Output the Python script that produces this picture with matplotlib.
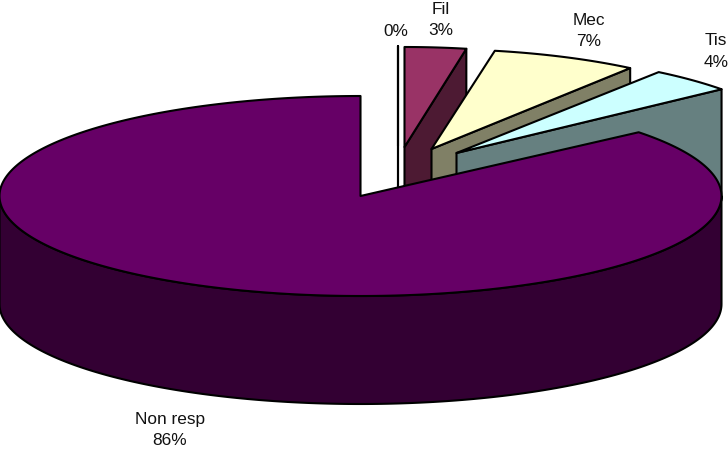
import matplotlib
matplotlib.use("Agg")
import matplotlib.pyplot as plt
import numpy as np
from matplotlib.patches import Polygon

plt.rcParams["font.family"] = ["Liberation Sans", "DejaVu Sans"]

# slices in clockwise order, starting from the top of the pie
labels = ["", "Fil", "Mec", "Tis", "Non resp"]
values = [0, 3, 7, 4, 86]

top_colors = ["#FFFFFF", "#993366", "#FFFFCC", "#CCFFFF", "#660066"]
side_colors = ["#808080", "#4D1A33", "#808066", "#668080", "#330033"]

# pie geometry in pixels
MAIN_CENTER = (360.5, 197)
MAIN_RX = 361
RY = 100
DEPTH = 108
# explode offsets and radii of the small slices
offsets = [(37, -50), (44, -49), (71, -47), (96, -43), (0, 0)]
slice_rx = [335, 330, 338, 344]
label_pos = [(396, 32), (441, 20), (589, 31), (716, 51.5), (170, 430)]
EDGE = 1.5


def rim(center, rx, start, end, n=120):
    theta = np.radians(np.linspace(start, end, n))
    return np.column_stack(
        (center[0] + rx * np.cos(theta), center[1] - RY * np.sin(theta))
    )


def add_poly(ax, points, color):
    ax.add_patch(
        Polygon(points, closed=True, facecolor=color, edgecolor="black",
                linewidth=EDGE, joinstyle="round")
    )


fig = plt.figure(figsize=(7.28, 4.52), dpi=100)
ax = fig.add_axes([0, 0, 1, 1])
ax.set_xlim(0, 728)
ax.set_ylim(452, 0)
ax.axis("off")

# start and end angles come from the values
cumulative = np.concatenate(([0], np.cumsum(values))) / sum(values) * 360
starts = 90 - cumulative[:-1]
ends = 90 - cumulative[1:]

# small slices, back to front
for i in range(len(values) - 1):
    center = (MAIN_CENTER[0] + offsets[i][0], MAIN_CENTER[1] + offsets[i][1])
    arc = rim(center, slice_rx[i], starts[i], ends[i])
    end_pt = arc[-1]
    wall = [
        center,
        end_pt,
        (end_pt[0], end_pt[1] + DEPTH),
        (center[0], center[1] + DEPTH),
    ]
    add_poly(ax, wall, side_colors[i])
    add_poly(ax, np.vstack(([center], arc)), top_colors[i])

# big slice: front wall then top face
front = rim(MAIN_CENTER, MAIN_RX, 180, 360, 240)
lower = front[::-1] + np.array([0, DEPTH])
add_poly(ax, np.vstack((front, lower)), side_colors[-1])
arc = rim(MAIN_CENTER, MAIN_RX, starts[-1], ends[-1], 400)
add_poly(ax, np.vstack(([MAIN_CENTER], arc)), top_colors[-1])

for name, value, (x, y) in zip(labels, values, label_pos):
    text = f"{name}\n{value}%" if name else f"{value}%"
    ax.text(x, y, text, ha="center", va="center", fontsize=12.4,
            color="#111111", linespacing=1.55)

fig.savefig("out.png", dpi=100)
